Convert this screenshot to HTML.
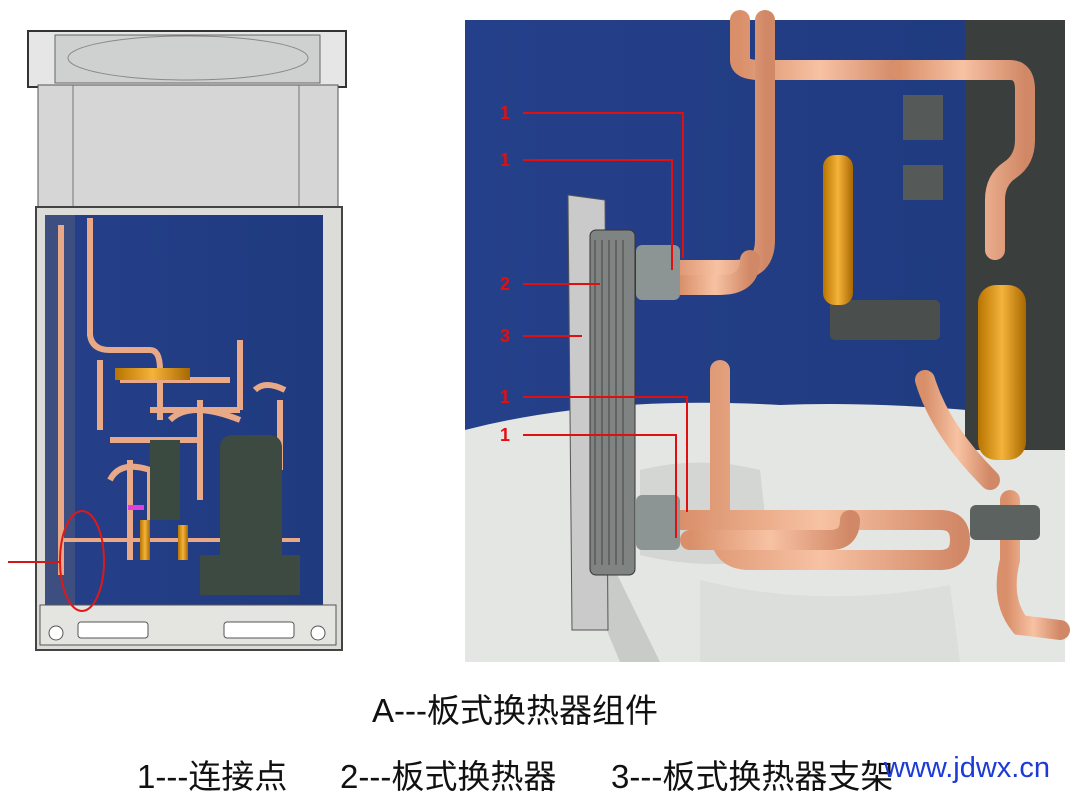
<!DOCTYPE html>
<html><head><meta charset="utf-8"><style>
body{margin:0;background:#fff;width:1080px;height:794px;overflow:hidden;font-family:"Liberation Sans","Noto Sans CJK SC",sans-serif}
.t{position:absolute;color:#111;font-size:33px;white-space:nowrap}
</style></head><body>
<svg width="1080" height="794" style="position:absolute;left:0;top:0">
<defs>
<linearGradient id="bg" x1="0" y1="0" x2="1" y2="0"><stop offset="0" stop-color="#25408a"/><stop offset="1" stop-color="#1f3a7e"/></linearGradient>
<linearGradient id="cu" x1="0" y1="0" x2="1" y2="0"><stop offset="0" stop-color="#d98f6a"/><stop offset=".5" stop-color="#f7c2a3"/><stop offset="1" stop-color="#d18866"/></linearGradient>
<linearGradient id="gd" x1="0" y1="0" x2="1" y2="0"><stop offset="0" stop-color="#b87400"/><stop offset=".5" stop-color="#f4b33a"/><stop offset="1" stop-color="#a86800"/></linearGradient>
</defs>
<rect x="28" y="31" width="318" height="56" fill="#e6e6e6" stroke="#333" stroke-width="2"/>
<rect x="55" y="35" width="265" height="48" fill="#cfd0d0" stroke="#666"/>
<ellipse cx="188" cy="58" rx="120" ry="22" fill="none" stroke="#888"/>
<rect x="38" y="85" width="300" height="122" fill="#d6d6d6" stroke="#555"/>
<line x1="73" y1="85" x2="73" y2="207" stroke="#777"/><line x1="299" y1="85" x2="299" y2="207" stroke="#777"/>
<rect x="36" y="207" width="306" height="443" fill="#dcdcd8" stroke="#444" stroke-width="2"/>
<rect x="45" y="215" width="278" height="390" fill="url(#bg)"/>
<rect x="45" y="215" width="30" height="390" fill="#3c4f80"/>
<rect x="40" y="605" width="296" height="40" fill="#e4e4e0" stroke="#555"/>
<rect x="78" y="622" width="70" height="16" fill="#fff" stroke="#555" rx="3"/>
<rect x="224" y="622" width="70" height="16" fill="#fff" stroke="#555" rx="3"/>
<circle cx="56" cy="633" r="7" fill="#fff" stroke="#555"/><circle cx="318" cy="633" r="7" fill="#fff" stroke="#555"/>
<g stroke="#e9a986" stroke-width="6" fill="none">
<path d="M61 225 V575"/><path d="M90 218 V335 Q92 350 110 350 H150 Q160 350 160 370 V420"/>
<path d="M100 360 V430"/><path d="M120 380 H230"/><path d="M150 410 H240"/><path d="M110 440 H200"/>
<path d="M240 340 V410"/><path d="M255 390 Q265 380 285 390"/><path d="M200 400 V500"/>
<path d="M130 460 V560"/><path d="M170 420 Q190 400 240 420"/><path d="M110 480 Q120 460 150 470 V520"/>
<path d="M280 400 V470"/><path d="M60 540 H300" stroke-width="4"/>
</g>
<rect x="115" y="368" width="75" height="12" fill="url(#gd)"/>
<rect x="150" y="440" width="30" height="80" fill="#3a4a40"/>
<rect x="220" y="435" width="62" height="155" rx="12" fill="#3c4a42"/>
<rect x="200" y="555" width="100" height="40" fill="#3c4a42"/>
<rect x="140" y="520" width="10" height="40" fill="url(#gd)"/>
<rect x="178" y="525" width="10" height="35" fill="url(#gd)"/>
<rect x="128" y="505" width="16" height="5" fill="#e040e0"/>
<ellipse cx="82" cy="561" rx="22" ry="50" fill="none" stroke="#e01818" stroke-width="2"/>
<line x1="8" y1="562" x2="60" y2="562" stroke="#d01818" stroke-width="2"/>
<rect x="465" y="20" width="600" height="642" fill="url(#bg)"/>
<path d="M465 430 Q600 395 780 405 Q900 400 1065 420 V662 H465Z" fill="#e4e6e4"/>
<path d="M640 470 Q700 455 760 470 L770 560 Q700 570 640 555Z" fill="#d3d6d3"/>
<path d="M610 560 L660 662 H620 L590 590Z" fill="#c8cbc8"/>
<path d="M700 580 Q820 610 950 585 L960 662 H700Z" fill="#dbdedb"/>
<rect x="965" y="20" width="100" height="430" fill="#3a3f3e"/>
<g stroke="url(#cu)" stroke-width="20" fill="none" stroke-linecap="round">
<path d="M740 20 V60 Q740 70 760 70 H900"/>
<path d="M765 20 V240 Q765 270 735 270 H670"/>
<path d="M745 100 V175"/>
<path d="M920 40 V500"/>
<path d="M900 70 H1010 Q1025 70 1025 90 V140 Q1025 160 1010 170 Q995 180 995 200 V250"/>
<path d="M680 285 H720 Q750 285 750 260"/>
<path d="M780 250 H1050"/>
<path d="M770 265 V500"/>
<path d="M720 370 V530 Q720 560 750 560 H940 Q960 560 960 540 Q960 520 940 520 H680"/>
<path d="M850 400 V495"/>
<path d="M840 360 V390"/>
<path d="M925 380 Q940 430 990 480"/>
<path d="M1010 500 V560 Q1000 600 1020 625 L1060 630"/>
<path d="M690 540 H830 Q850 540 850 520"/>
</g>
<rect x="903" y="95" width="40" height="45" fill="#555a58"/>
<rect x="903" y="165" width="40" height="35" fill="#555a58"/>
<rect x="830" y="300" width="110" height="40" rx="5" fill="#4a4f4e"/>
<rect x="823" y="155" width="30" height="150" rx="12" fill="url(#gd)"/>
<rect x="978" y="285" width="48" height="175" rx="18" fill="url(#gd)"/>
<rect x="970" y="505" width="70" height="35" rx="6" fill="#5c6260"/>
<path d="M568 195 L605 200 L608 630 L572 630Z" fill="#c9cac9" stroke="#555"/>
<rect x="590" y="230" width="45" height="345" rx="6" fill="#7f8482" stroke="#333"/>
<g stroke="#444" stroke-width="1"><line x1="595" y1="240" x2="595" y2="565"/><line x1="602" y1="240" x2="602" y2="565"/><line x1="609" y1="240" x2="609" y2="565"/><line x1="616" y1="240" x2="616" y2="565"/><line x1="623" y1="240" x2="623" y2="565"/></g>
<rect x="636" y="245" width="44" height="55" rx="6" fill="#8d9594"/>
<rect x="636" y="495" width="44" height="55" rx="6" fill="#8d9594"/>
<g stroke="#e01010" stroke-width="2" fill="none">
<path d="M523 113 H683 V258"/><path d="M523 160 H672 V270"/>
<path d="M523 284 H600"/><path d="M523 336 H582"/>
<path d="M523 397 H687 V512"/><path d="M523 435 H676 V538"/>
</g>
<g fill="#e01010" font-size="18" font-weight="bold" font-family="Liberation Sans,sans-serif">
<text x="500" y="119">1</text><text x="500" y="166">1</text><text x="500" y="290">2</text><text x="500" y="342">3</text><text x="500" y="403">1</text><text x="500" y="441">1</text>
</g>
</svg>
<div class="t" style="left:372px;top:684px">A---板式换热器组件</div>
<div class="t" style="left:137px;top:750px">1---连接点</div>
<div class="t" style="left:340px;top:750px">2---板式换热器</div>
<div class="t" style="left:611px;top:750px">3---板式换热器支架</div>
<div class="t" style="left:884px;top:752px;color:#1c3bd6;font-size:29px">www.jdwx.cn</div>
</body></html>
